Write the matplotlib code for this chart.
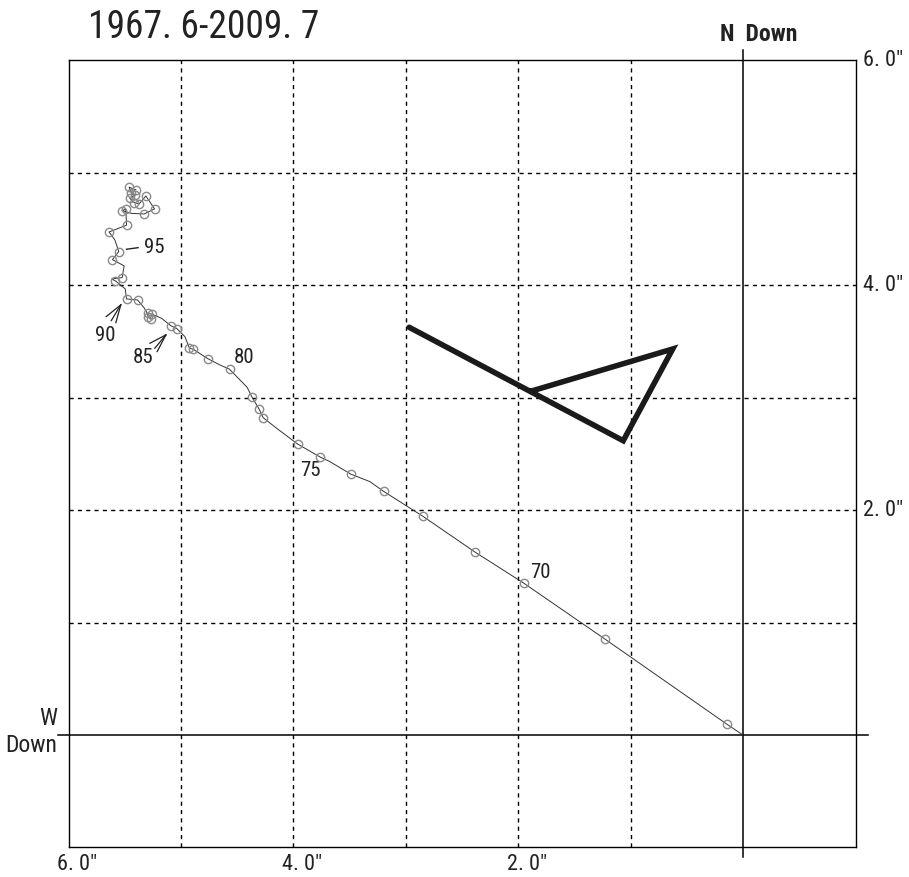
import matplotlib
matplotlib.use("Agg")
import matplotlib.pyplot as plt
from matplotlib import font_manager

# pick a narrow sans if there is one, else fall back
names = {f.name for f in font_manager.fontManager.ttflist}
base = 'DejaVu Sans'
for cand in ['Liberation Sans Narrow', 'DejaVu Sans Condensed', 'Roboto Condensed']:
    if cand in names:
        base = cand
        break
FAM = [base, 'DejaVu Sans']
plt.rcParams['font.family'] = FAM

# relative position track (arcsec), 1967.6 -> 2009.7
track_x = [0.000, 0.146, 1.229, 1.952, 2.385, 2.848, 3.198, 3.319, 3.491,
           3.675, 3.762, 3.963, 4.149, 4.269, 4.304, 4.367, 4.411, 4.568, 4.654, 4.761, 4.891,
           4.924, 4.965, 5.036, 5.090, 5.173, 5.256, 5.297, 5.292, 5.268, 5.327, 5.386, 5.484,
           5.495, 5.582, 5.617, 5.523, 5.505, 5.609, 5.553, 5.588, 5.639, 5.484, 5.490, 5.526,
           5.437, 5.327, 5.235, 5.312, 5.372, 5.416, 5.455, 5.410, 5.440, 5.461, 5.401]
track_y = [0.000, 0.098, 0.854, 1.352, 1.628, 1.946, 2.168, 2.254, 2.322,
           2.432, 2.473, 2.589, 2.729, 2.823, 2.898, 3.004, 3.093, 3.254, 3.292, 3.348, 3.432,
           3.440, 3.544, 3.615, 3.641, 3.707, 3.743, 3.752, 3.722, 3.698, 3.799, 3.870, 3.879,
           3.968, 4.039, 4.057, 4.069, 4.173, 4.229, 4.300, 4.404, 4.475, 4.535, 4.677, 4.665,
           4.640, 4.635, 4.680, 4.795, 4.724, 4.736, 4.775, 4.804, 4.819, 4.873, 4.849]

# observed epochs (circles)
obs_x = [0.146, 1.229, 1.952, 2.385, 2.848, 3.198, 3.491, 3.762, 3.963, 4.269, 4.304, 4.367,
         4.568, 4.761, 4.891, 4.924, 5.036, 5.090, 5.256, 5.297, 5.292, 5.268, 5.386, 5.484,
         5.582, 5.523, 5.609, 5.553, 5.639, 5.484, 5.490, 5.526, 5.327, 5.235, 5.312, 5.372,
         5.416, 5.455, 5.410, 5.440, 5.461, 5.401]
obs_y = [0.098, 0.854, 1.352, 1.628, 1.946, 2.168, 2.322, 2.473, 2.589, 2.823, 2.898, 3.004,
         3.254, 3.348, 3.432, 3.440, 3.615, 3.641, 3.743, 3.752, 3.722, 3.698, 3.870, 3.879,
         4.039, 4.069, 4.229, 4.300, 4.475, 4.535, 4.677, 4.665, 4.635, 4.680, 4.795, 4.724,
         4.736, 4.775, 4.804, 4.819, 4.873, 4.849]

# thick line
thick_x = [2.970, 1.066, 0.626, 1.881]
thick_y = [3.627, 2.618, 3.434, 3.060]

# year labels
year_text = ['70', '75', '80', '85', '90', '95']
year_x = [1.807, 3.853, 4.440, 5.339, 5.677, 5.235]
year_y = [1.450, 2.349, 3.354, 3.354, 3.550, 4.333]

tick_vals = [6.0, 4.0, 2.0]

fig = plt.figure(figsize=(9.09, 8.77), dpi=100)
ax = fig.add_axes([0.07536, 0.03364, 0.8658, 0.8974])
ax.set_xlim(6.0, -1.0)
ax.set_ylim(-1.0, 6.0)
ax.set_xticks([])
ax.set_yticks([])
for s in ax.spines.values():
    s.set_linewidth(1.0)

# dashed grid
for v in [1, 2, 3, 4, 5]:
    ax.axvline(v, color='black', lw=1.0, ls=(0, (3, 3)), zorder=1)
    ax.axhline(v, color='black', lw=1.0, ls=(0, (3, 3)), zorder=1)

# origin cross, sticking out of the frame
ax.plot([0, 0], [-1.085, 6.094], color='black', lw=1.1, clip_on=False, zorder=2)
ax.plot([6.095, -1.11], [0, 0], color='black', lw=1.1, clip_on=False, zorder=2)

ax.plot(track_x, track_y, color='#333333', lw=0.7, zorder=3)
ax.plot(obs_x, obs_y, ls='none', marker='o', ms=6, mfc='none', mec='#8a8a8a', mew=1.0, zorder=4)
ax.plot(thick_x, thick_y, color='#1a1a1a', lw=4, solid_capstyle='round', solid_joinstyle='miter', zorder=5)

for t, x, y in zip(year_text, year_x, year_y):
    ax.text(x, y, t, fontsize=15, ha='center', va='center', color='#222222')

# little pointers
ax.plot([5.484, 5.381], [4.321, 4.335], color='#222222', lw=1.0)
for tx, ty in [(5.665, 3.722), (5.620, 3.686), (5.579, 3.668)]:
    ax.plot([tx, 5.535], [ty, 3.826], color='#222222', lw=0.9)
for tx, ty in [(5.276, 3.485), (5.232, 3.441), (5.211, 3.411)]:
    ax.plot([tx, 5.134], [ty, 3.559], color='#222222', lw=0.9)

# axis labels
for v in tick_vals:
    ax.text(v + 0.10, -1.155, '%.0f. %d\u2033' % (v, 0), fontsize=16, ha='left', va='center',
            color='#222222', clip_on=False)
    ax.text(-1.07, v, '%.0f. %d\u2033' % (v, 0), fontsize=16, ha='left', va='center',
            color='#222222', clip_on=False)

ax.text(-0.14, 6.23, 'N  Down', fontsize=17, fontweight='bold', ha='center', va='center',
        color='#222222', clip_on=False)
ax.text(6.10, 0.15, 'W', fontsize=17, ha='right', va='center', color='#222222', clip_on=False)
ax.text(6.10, -0.09, 'Down', fontsize=17, ha='right', va='center', color='#222222', clip_on=False)

fig.text(0.0968, 0.969, '1967. 6-2009. 7', fontsize=27, ha='left', va='center', color='#222222')

fig.savefig('out.png', dpi=100)
